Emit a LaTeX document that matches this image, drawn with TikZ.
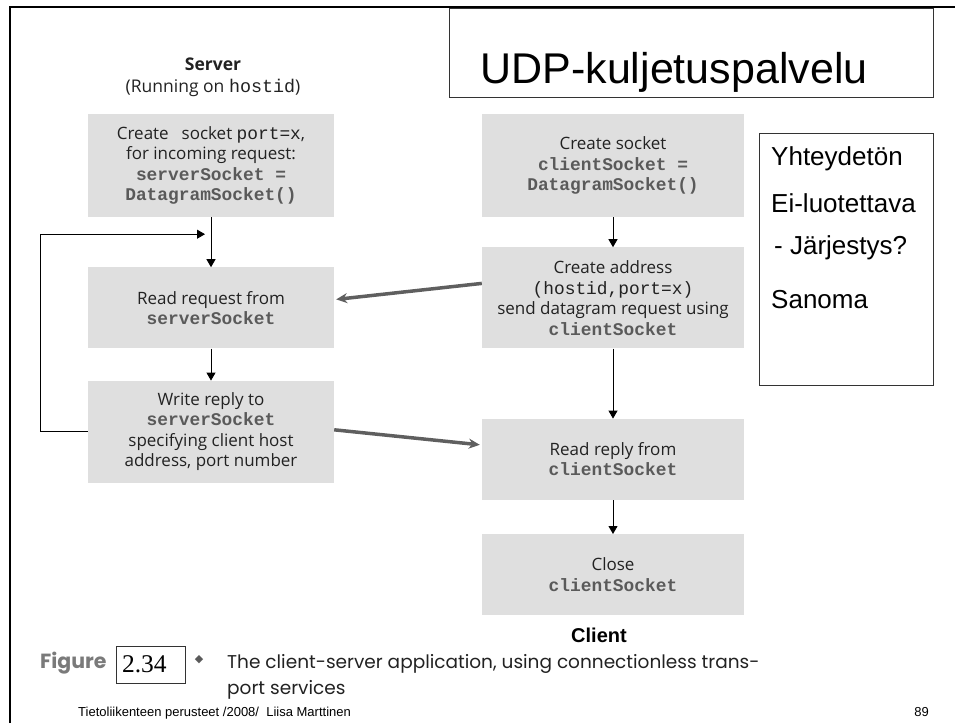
\documentclass[tikz,border=0pt]{standalone}
\usepackage{fontspec}
\setmainfont{Open Sans}
\setmonofont[Scale=1.05]{Liberation Mono}
\newfontfamily\arialfont{Liberation Sans}
\newfontfamily\capfont{Poppins}
\newfontfamily\timesfont{Liberation Serif}
\newfontfamily\symfont{DejaVu Sans}
\usepackage{tikz}
\usetikzlibrary{positioning,arrows.meta,calc}
\definecolor{boxgray}{HTML}{DFDFDF}
\definecolor{codegray}{HTML}{5A5A5A}
\definecolor{textdark}{HTML}{222222}
\definecolor{arrowgray}{HTML}{5F5F5F}
\definecolor{figgray}{HTML}{7A7A7A}
\newcommand{\code}[1]{{\ttfamily\bfseries\color{codegray}#1}}
\newcommand{\ptcode}[1]{{\ttfamily\color{textdark}#1}}

\begin{document}
\begin{tikzpicture}[x=1pt,y=-1pt,
  stepbox/.style={fill=boxgray,align=center,text=textdark,inner sep=0pt,font=\fontsize{17}{20.5}\selectfont},
  srvbox/.style={stepbox,minimum width=246pt},
  clibox/.style={stepbox,minimum width=262pt},
  plainbox/.style={draw=black!80,line width=0.8pt},
  note/.style={anchor=base west,inner sep=0pt,font=\arialfont\fontsize{26}{30}\selectfont},
  captxt/.style={anchor=base west,inner sep=0pt,font=\capfont\fontsize{18.5}{22}\selectfont,text=textdark},
  arr/.style={-{Triangle[length=8pt,width=9pt]},line width=0.9pt},
  msg/.style={-{Stealth[length=11pt,width=10pt]},line width=3.5pt,color=arrowgray}
]
  \useasboundingbox (0,0) rectangle (955,723);
  \draw[line width=2.6pt] (10,723) -- (10,7) -- (955,7);

  % title and notes
  \node[plainbox,minimum width=484pt,minimum height=89pt] (titlebox) at (691,52.5) {};
  \node[anchor=base,font=\arialfont\fontsize{43}{50}\selectfont] (title) at (674,83) {UDP-kuljetuspalvelu};
  \node[plainbox,minimum width=174pt,minimum height=252pt] (notes) at (846,259) {};
  \node[note] (n1) at (771,165) {Yhteydetön};
  \node[note] (n2) at (771,212) {Ei-luotettava};
  \node[note] (n3) at (771,254) {\hspace{3pt}- Järjestys?};
  \node[note] (n4) at (771,308) {Sanoma};

  % server side
  \node[align=center,text=textdark,font=\fontsize{17.5}{22}\selectfont] (srvhead) at (213,77) {{\bfseries Server}\\(Running on \ptcode{hostid})};
  \node[srvbox,minimum height=103pt] (s1) at (211,165.5) {Create\hspace{0.5em} socket \ptcode{port=x},\\for incoming request:\\\code{serverSocket =}\\\code{DatagramSocket()}};
  \node[srvbox,minimum height=81pt,below=50pt of s1] (s2) {Read request from\\\code{serverSocket}};
  \node[srvbox,minimum height=102pt,below=32pt of s2] (s3) {Write reply to\\\code{serverSocket}\\specifying client host\\address, port number};

  % client side
  \node[clibox,minimum height=103pt] (c1) at (613,165.5) {Create socket\\\code{clientSocket =}\\\code{DatagramSocket()}};
  \node[clibox,minimum height=101pt,below=30pt of c1] (c2) {Create address\\\ptcode{(hostid,port=x)}\\send datagram request using\\\code{clientSocket}};
  \node[clibox,minimum height=81pt,below=70pt of c2] (c3) {Read reply from\\\code{clientSocket}};
  \node[clibox,minimum height=81pt,below=34pt of c3] (c4) {Close\\\code{clientSocket}};
  \node[font=\arialfont\bfseries\fontsize{20}{24}\selectfont] (clilabel) at (599,635) {Client};

  \draw[arr] (s1) -- (s2);
  \draw[arr] (s2) -- (s3);
  \coordinate (loopin) at ($(s1.south)+(-6,17)$);
  \draw[arr] (s3.west) -- ++(-47,0) |- (loopin);
  \draw[arr] (c1) -- (c2);
  \draw[arr] (c2) -- (c3);
  \draw[arr] (c3) -- (c4);
  \draw[msg] ([yshift=14.5pt]c2.west) -- ([xshift=2pt,yshift=8.5pt]s2.east);
  \draw[msg] ([yshift=2pt]s3.east) -- ([xshift=-2pt,yshift=14.5pt]c3.west);

  % caption and footer
  \node[anchor=base west,inner sep=0pt,font=\capfont\bfseries\fontsize{20.5}{24}\selectfont,text=figgray] (figword) at (40,668) {Figure};
  \node[plainbox,line width=0.7pt,minimum width=69pt,minimum height=37pt,text width=57pt,inner xsep=6pt,align=left,font=\timesfont\fontsize{25.5}{28}\selectfont] (fignum) at (150.5,664.5) {2.34};
  \node[font=\symfont\fontsize{11}{12}\selectfont,text=codegray] (bullet) at (199,660) {◆};
  \node[captxt] (cap1) at (227,668) {The client-server application, using connectionless trans-};
  \node[captxt] (cap2) at (227,694) {port services};
  \node[anchor=mid west,inner sep=0pt,font=\arialfont\fontsize{13}{15}\selectfont] (foot) at (78,714) {Tietoliikenteen perusteet /2008/\ \ Liisa Marttinen};
  \node[anchor=mid east,inner sep=0pt,font=\arialfont\fontsize{13}{15}\selectfont] (page) at (929,714) {89};
\end{tikzpicture}
\end{document}
